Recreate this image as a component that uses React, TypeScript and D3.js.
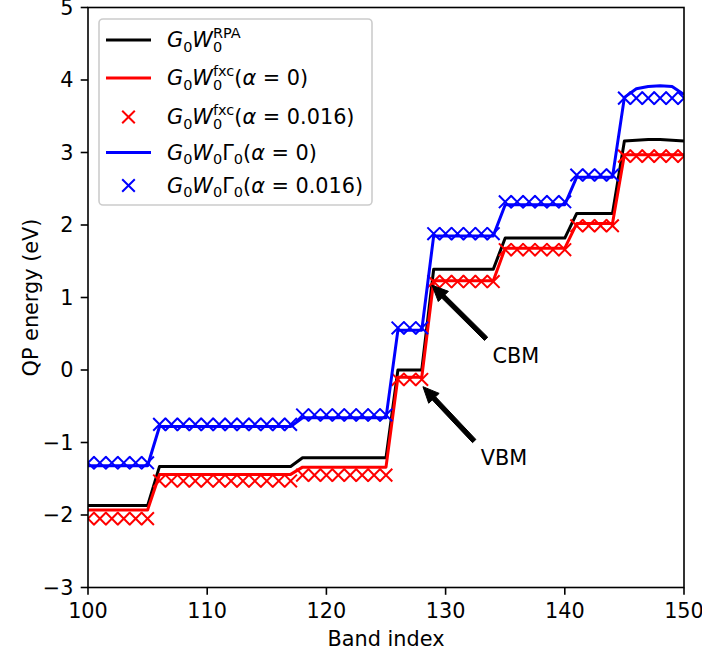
import React from 'react';
import * as d3 from 'd3';

const bandIndex = [
  100, 101, 102, 103, 104, 105, 106, 107, 108, 109, 110, 111, 112, 113, 114, 115, 116,
  117, 118, 119, 120, 121, 122, 123, 124, 125, 126, 127, 128, 129, 130, 131, 132, 133,
  134, 135, 136, 137, 138, 139, 140, 141, 142, 143, 144, 145, 146, 147, 148, 149, 150,
];

// G0W0 RPA
const rpa = [
  -1.87, -1.87, -1.87, -1.87, -1.87, -1.87,
  -1.33, -1.33, -1.33, -1.33, -1.33, -1.33, -1.33, -1.33, -1.33, -1.33, -1.33, -1.33,
  -1.21, -1.21, -1.21, -1.21, -1.21, -1.21, -1.21, -1.21,
  0.0, 0.0, 0.0,
  1.39, 1.39, 1.39, 1.39, 1.39, 1.39,
  1.82, 1.82, 1.82, 1.82, 1.82, 1.82,
  2.16, 2.16, 2.16, 2.16,
  3.16, 3.17, 3.18, 3.18, 3.17, 3.16,
];

// G0W0 fxc, alpha = 0
const fxcA0 = [
  -1.93, -1.93, -1.93, -1.93, -1.93, -1.93,
  -1.44, -1.44, -1.44, -1.44, -1.44, -1.44, -1.44, -1.44, -1.44, -1.44, -1.44, -1.44,
  -1.34, -1.34, -1.34, -1.34, -1.34, -1.34, -1.34, -1.34,
  -0.10, -0.10, -0.10,
  1.23, 1.23, 1.23, 1.23, 1.23, 1.23,
  1.68, 1.68, 1.68, 1.68, 1.68, 1.68,
  2.02, 2.02, 2.02, 2.02,
  2.97, 2.97, 2.97, 2.97, 2.97, 2.97,
];

// G0W0 fxc, alpha = 0.016
const fxcA016 = [
  -2.05, -2.05, -2.05, -2.05, -2.05, -2.05,
  -1.53, -1.53, -1.53, -1.53, -1.53, -1.53, -1.53, -1.53, -1.53, -1.53, -1.53, -1.53,
  -1.45, -1.45, -1.45, -1.45, -1.45, -1.45, -1.45, -1.45,
  -0.13, -0.13, -0.13,
  1.22, 1.22, 1.22, 1.22, 1.22, 1.22,
  1.66, 1.66, 1.66, 1.66, 1.66, 1.66,
  1.99, 1.99, 1.99, 1.99,
  2.95, 2.95, 2.95, 2.95, 2.95, 2.95,
];

// G0W0Gamma0, alpha = 0
const vertexA0 = [
  -1.32, -1.32, -1.32, -1.32, -1.32, -1.32,
  -0.78, -0.78, -0.78, -0.78, -0.78, -0.78, -0.78, -0.78, -0.78, -0.78, -0.78, -0.78,
  -0.66, -0.66, -0.66, -0.66, -0.66, -0.66, -0.66, -0.66,
  0.55, 0.55, 0.55,
  1.85, 1.85, 1.85, 1.85, 1.85, 1.85,
  2.28, 2.28, 2.28, 2.28, 2.28, 2.28,
  2.66, 2.66, 2.66, 2.66,
  3.76, 3.88, 3.91, 3.92, 3.91, 3.80,
];

// G0W0Gamma0, alpha = 0.016
const vertexA016 = [
  -1.28, -1.28, -1.28, -1.28, -1.28, -1.28,
  -0.75, -0.75, -0.75, -0.75, -0.75, -0.75, -0.75, -0.75, -0.75, -0.75, -0.75, -0.75,
  -0.62, -0.62, -0.62, -0.62, -0.62, -0.62, -0.62, -0.62,
  0.58, 0.58, 0.58,
  1.88, 1.88, 1.88, 1.88, 1.88, 1.88,
  2.32, 2.32, 2.32, 2.32, 2.32, 2.32,
  2.69, 2.69, 2.69, 2.69,
  3.75, 3.75, 3.75, 3.75, 3.75, 3.75,
];

const xTicks = [100, 110, 120, 130, 140, 150];
const yTicks = [-3, -2, -1, 0, 1, 2, 3, 4, 5];

const annotations = [
  { label: 'CBM', tailX: 133.4, tailY: 0.43, tipX: 128.86, tipY: 1.17, textX: 135.9, textY: 0.19 },
  { label: 'VBM', tailX: 132.4, tailY: -0.98, tipX: 128.1, tipY: -0.23, textX: 134.9, textY: -1.21 },
];

const FONT = 'DejaVu Sans, sans-serif';
const FS = 20.8;
const SS = 14.5;

const W = 702;
const H = 658;
const L = 88, R = 684, T = 7.5, B = 587.5;

function Cross({ cx, cy, color, h = 6.3 }: { cx: number; cy: number; color: string; h?: number }) {
  return (
    <path
      d={`M${cx - h},${cy - h}L${cx + h},${cy + h}M${cx - h},${cy + h}L${cx + h},${cy - h}`}
      stroke={color}
      strokeWidth={2}
      fill="none"
    />
  );
}

function Arrow({ x1, y1, x2, y2 }: { x1: number; y1: number; x2: number; y2: number }) {
  const dx = x2 - x1, dy = y2 - y1;
  const len = Math.hypot(dx, dy);
  const ux = dx / len, uy = dy / len;
  const nx = -uy, ny = ux;
  const w = 2.3, hw = 7.2, hl = 16;
  const bx = x2 - ux * hl, by = y2 - uy * hl;
  const pts = [
    [x1 + nx * w, y1 + ny * w],
    [bx + nx * w, by + ny * w],
    [bx + nx * hw, by + ny * hw],
    [x2, y2],
    [bx - nx * hw, by - ny * hw],
    [bx - nx * w, by - ny * w],
    [x1 - nx * w, y1 - ny * w],
  ];
  return <polygon points={pts.map((p) => p.join(',')).join(' ')} fill="black" stroke="black" strokeWidth={1} strokeLinejoin="miter" />;
}

function LegendLabel({ kind, alpha }: { kind: 'rpa' | 'fxc' | 'gamma'; alpha?: string }) {
  const zeroW = 0.636 * SS;
  const parts: React.ReactNode[] = [];
  parts.push(<tspan key="g" fontStyle="italic">G</tspan>);
  parts.push(<tspan key="g0" fontSize={SS} dy={4.5}>0</tspan>);
  parts.push(<tspan key="w" fontStyle="italic" dy={-4.5}>W</tspan>);
  if (kind === 'rpa') {
    parts.push(<tspan key="w0" fontSize={SS} dy={4.5}>0</tspan>);
    parts.push(<tspan key="sup" fontSize={SS} dx={-zeroW} dy={-14}>RPA</tspan>);
    parts.push(<tspan key="rest" dy={9.5}>{''}</tspan>);
  } else if (kind === 'fxc') {
    parts.push(<tspan key="w0" fontSize={SS} dy={4.5}>0</tspan>);
    parts.push(<tspan key="sup" fontSize={SS} dx={-zeroW} dy={-14}>fxc</tspan>);
    parts.push(<tspan key="p" dy={9.5}>(</tspan>);
    parts.push(<tspan key="a" fontStyle="italic">α</tspan>);
    parts.push(<tspan key="e">{` = ${alpha})`}</tspan>);
  } else {
    parts.push(<tspan key="w0" fontSize={SS} dy={4.5}>0</tspan>);
    parts.push(<tspan key="G" dy={-4.5}>Γ</tspan>);
    parts.push(<tspan key="G0" fontSize={SS} dy={4.5}>0</tspan>);
    parts.push(<tspan key="p" dy={-4.5}>(</tspan>);
    parts.push(<tspan key="a" fontStyle="italic">α</tspan>);
    parts.push(<tspan key="e">{` = ${alpha})`}</tspan>);
  }
  return <>{parts}</>;
}

export default function App() {
  const x = d3.scaleLinear().domain([100, 150]).range([L, R]);
  const y = d3.scaleLinear().domain([-3, 5]).range([B, T]);
  const line = d3
    .line<number>()
    .x((_, i) => x(bandIndex[i]))
    .y((d) => y(d));

  const legendRows = [
    { type: 'line', color: 'black', kind: 'rpa' as const, alpha: undefined, cy: 40 },
    { type: 'line', color: 'red', kind: 'fxc' as const, alpha: '0', cy: 78 },
    { type: 'mark', color: 'red', kind: 'fxc' as const, alpha: '0.016', cy: 117 },
    { type: 'line', color: 'blue', kind: 'gamma' as const, alpha: '0', cy: 152.5 },
    { type: 'mark', color: 'blue', kind: 'gamma' as const, alpha: '0.016', cy: 185.5 },
  ];

  return (
    <svg
      width={W}
      height={H}
      viewBox={`0 0 ${W} ${H}`}
      style={{ position: 'absolute', left: 0, top: 0, display: 'block', background: 'white' }}
      fontFamily={FONT}
    >
      <defs>
        <clipPath id="plotClip">
          <rect x={L} y={T} width={R - L} height={B - T} />
        </clipPath>
      </defs>
      <rect x={0} y={0} width={W} height={H} fill="white" />

      <g clipPath="url(#plotClip)">
        <path d={line(rpa) || ''} fill="none" stroke="black" strokeWidth={3} strokeLinejoin="round" />
        <path d={line(fxcA0) || ''} fill="none" stroke="red" strokeWidth={3} strokeLinejoin="round" />
        {fxcA016.map((v, i) => (
          <Cross key={'r' + i} cx={x(bandIndex[i])} cy={y(v)} color="red" />
        ))}
        <path d={line(vertexA0) || ''} fill="none" stroke="blue" strokeWidth={3} strokeLinejoin="round" />
        {vertexA016.map((v, i) => (
          <Cross key={'b' + i} cx={x(bandIndex[i])} cy={y(v)} color="blue" />
        ))}
      </g>

      {/* annotations */}
      {annotations.map((a) => (
        <g key={a.label}>
          <Arrow x1={x(a.tailX)} y1={y(a.tailY)} x2={x(a.tipX)} y2={y(a.tipY)} />
          <text x={x(a.textX)} y={y(a.textY)} fontSize={FS} textAnchor="middle" dominantBaseline="central" fill="black">
            {a.label}
          </text>
        </g>
      ))}

      {/* frame */}
      <rect x={L} y={T} width={R - L} height={B - T} fill="none" stroke="black" strokeWidth={1.6} />

      {/* x ticks */}
      {xTicks.map((t) => (
        <g key={'x' + t}>
          <line x1={x(t)} x2={x(t)} y1={B} y2={B + 7.3} stroke="black" strokeWidth={1.6} />
          <text x={x(t)} y={B + 14.6} dy="0.76em" fontSize={FS} textAnchor="middle" fill="black">
            {t}
          </text>
        </g>
      ))}
      {/* y ticks */}
      {yTicks.map((t) => (
        <g key={'y' + t}>
          <line x1={L - 7.3} x2={L} y1={y(t)} y2={y(t)} stroke="black" strokeWidth={1.6} />
          <text x={L - 14.6} y={y(t)} dy="0.36em" fontSize={FS} textAnchor="end" fill="black">
            {t < 0 ? '\u2212' + Math.abs(t) : String(t)}
          </text>
        </g>
      ))}

      <text x={(L + R) / 2} y={646} fontSize={FS} textAnchor="middle" fill="black">
        Band index
      </text>
      <text
        transform={`translate(31, ${(T + B) / 2}) rotate(-90)`}
        fontSize={FS}
        textAnchor="middle"
        dominantBaseline="central"
        fill="black"
      >
        QP energy (eV)
      </text>

      {/* legend */}
      <rect x={99} y={19} width={273} height={186} rx={4} ry={4} fill="white" fillOpacity={0.8} stroke="#cccccc" strokeWidth={1.6} />
      {legendRows.map((r, i) => (
        <g key={'lg' + i}>
          {r.type === 'line' ? (
            <line x1={106} x2={151} y1={r.cy} y2={r.cy} stroke={r.color} strokeWidth={3} />
          ) : (
            <Cross cx={128.5} cy={r.cy} color={r.color} />
          )}
          <text x={167} y={r.cy + 7} fontSize={FS} fill="black">
            <LegendLabel kind={r.kind} alpha={r.alpha} />
          </text>
        </g>
      ))}
    </svg>
  );
}
